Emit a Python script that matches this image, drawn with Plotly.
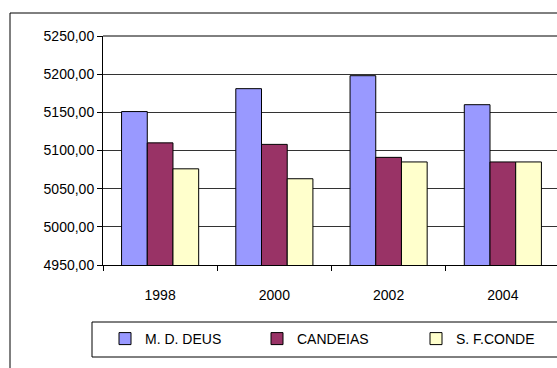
import plotly.graph_objects as go

# Population figures per survey year for the three localities
years = ["1998", "2000", "2002", "2004"]
md_deus = [5151, 5181, 5198, 5160]
candeias = [5110, 5108, 5091, 5085]
sf_conde = [5076, 5063, 5085, 5085]

series_names = ["M. D. DEUS", "CANDEIAS", "S. F.CONDE"]
series_values = [md_deus, candeias, sf_conde]
series_colors = ["#9999FF", "#993366", "#FFFFCC"]

FONT = "Liberation Sans, Arial, sans-serif"

W, H = 557, 368
L, R, T, B = 103, 0, 36, 103
pw, ph = W - L - R, H - T - B


def px(x):
    return (x - L) / pw


def py(y):
    return (H - B - y) / ph


# one legend box per series so the entries sit side by side in a single row
legend_ids = ["legend", "legend2", "legend3"]
legend_left = [105, 257, 416]

fig = go.Figure()
for name, vals, col, lid in zip(series_names, series_values, series_colors, legend_ids):
    fig.add_trace(go.Bar(
        x=years, y=vals, name=name, legend=lid,
        marker=dict(color=col, line=dict(color="#000000", width=1)),
    ))

legend_style = dict(
    orientation="h", xanchor="left", yanchor="middle", y=py(339),
    itemwidth=30, bgcolor="rgba(0,0,0,0)", borderwidth=0,
    font=dict(family=FONT, size=14, color="#000000"),
)

fig.update_layout(
    width=W, height=H,
    margin=dict(l=L, r=R, t=T, b=B, pad=0),
    paper_bgcolor="#FFFFFF", plot_bgcolor="#FFFFFF",
    font=dict(family=FONT, size=14, color="#000000"),
    barmode="group", bargap=0.325, bargroupgap=0,
    separators=",.",
    showlegend=True,
    legend=dict(legend_style, x=px(legend_left[0])),
    legend2=dict(legend_style, x=px(legend_left[1])),
    legend3=dict(legend_style, x=px(legend_left[2])),
    xaxis=dict(
        type="category", range=[-0.5, 3.474],
        showgrid=False, showline=True, linecolor="#000000", linewidth=1,
        ticks="outside", tickson="boundaries", ticklen=5, tickcolor="#000000",
        ticklabelstandoff=17, zeroline=False,
    ),
    yaxis=dict(
        range=[4950, 5250], dtick=50, tickformat=".2f",
        showgrid=True, gridcolor="#333333", gridwidth=1,
        showline=True, linecolor="#000000", linewidth=1,
        ticks="outside", ticklen=5, tickcolor="#000000",
        zeroline=False,
    ),
    shapes=[
        # chart border
        dict(type="rect", xref="paper", yref="paper",
             x0=px(10), x1=1.3, y0=py(13), y1=-0.8,
             line=dict(color="#000000", width=1), layer="below"),
        # plot area top edge
        dict(type="line", xref="paper", yref="paper",
             x0=0, x1=1.1, y0=1, y1=1,
             line=dict(color="#000000", width=1)),
        # legend frame
        dict(type="rect", xref="paper", yref="paper",
             x0=px(92), x1=1.3, y0=py(357), y1=py(322),
             line=dict(color="#000000", width=1), layer="below"),
    ],
)

fig.write_html("out.html")
